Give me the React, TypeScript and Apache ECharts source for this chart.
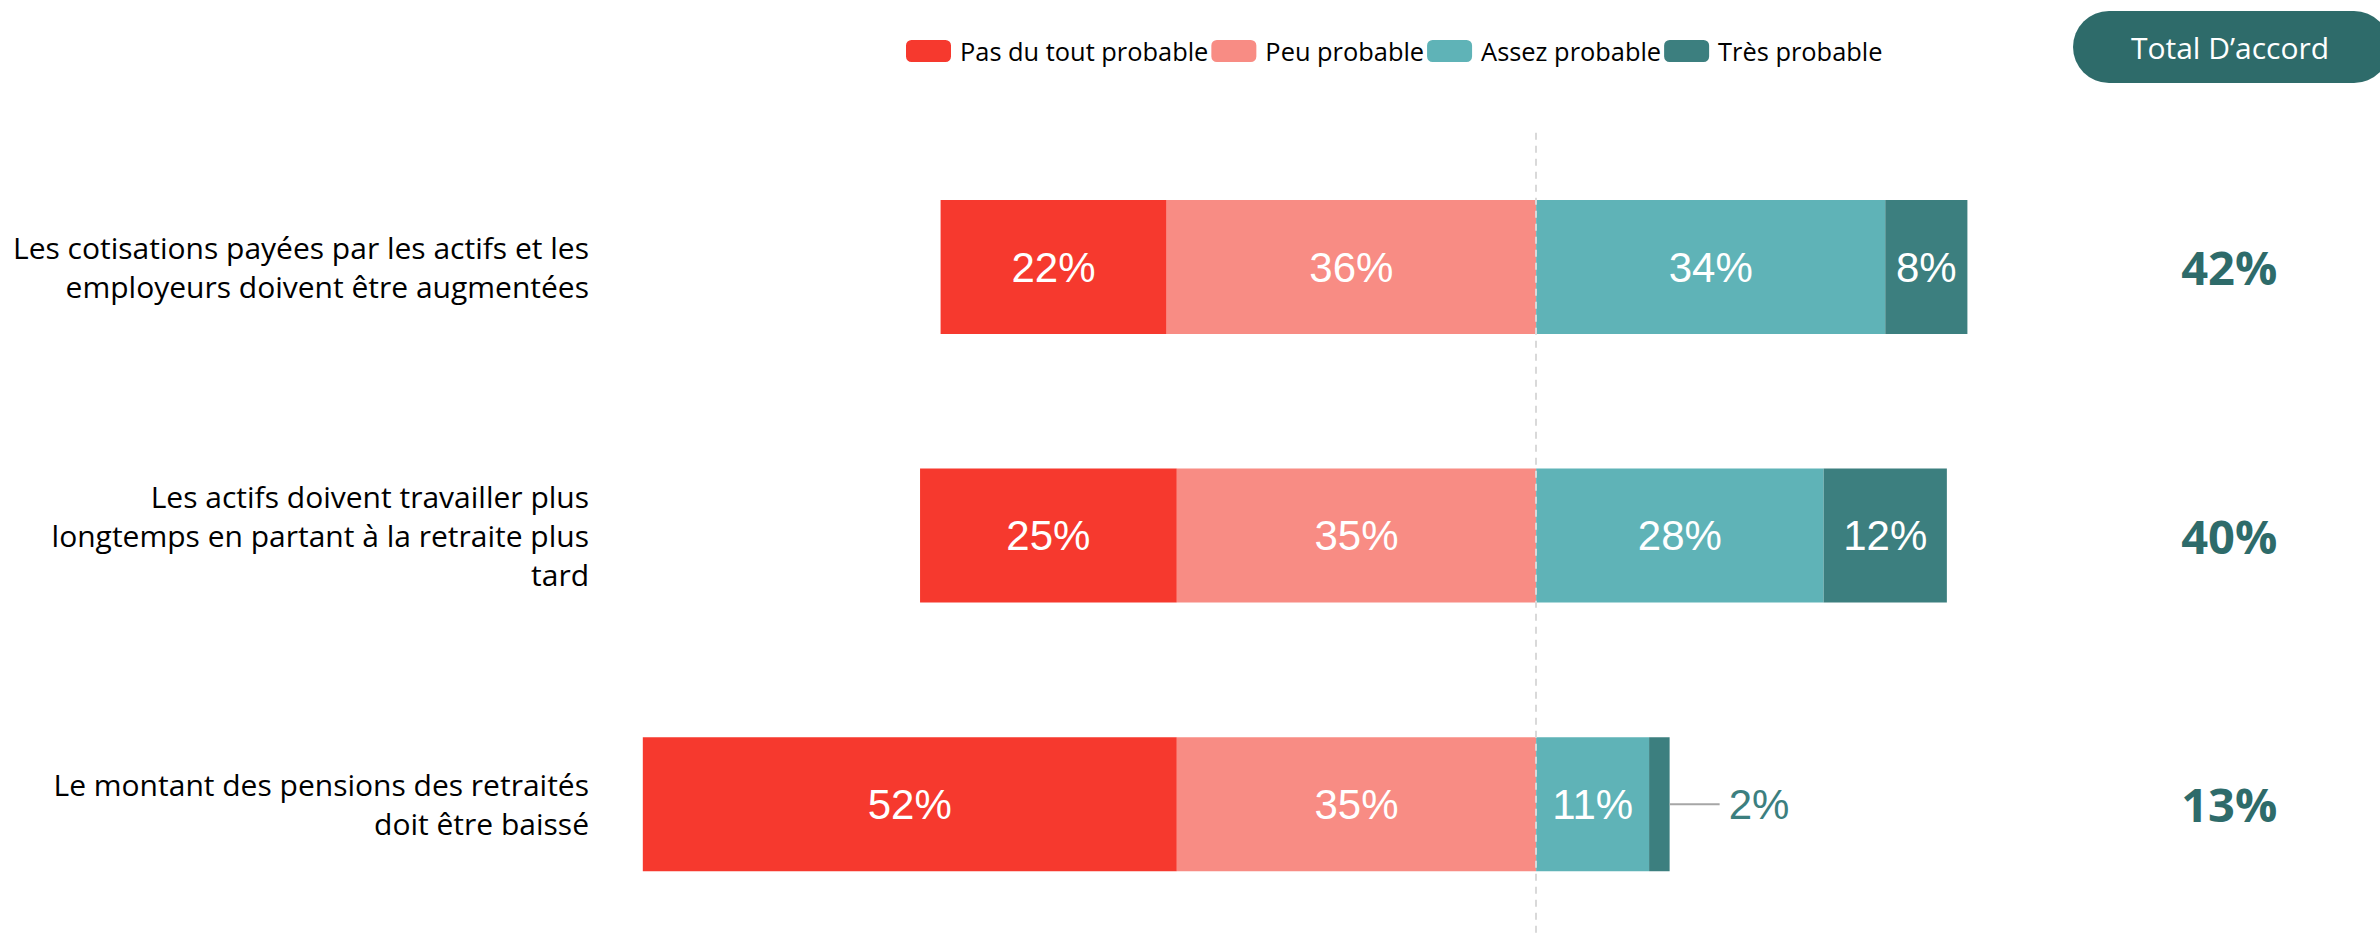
import React, { useEffect, useRef } from "react";
import * as echarts from "echarts";

const categories = [
  "Les cotisations payées par les actifs et les\nemployeurs doivent être augmentées",
  "Les actifs doivent travailler plus\nlongtemps en partant à la retraite plus\ntard",
  "Le montant des pensions des retraités\ndoit être baissé",
];
const legendNames = ["Pas du tout probable", "Peu probable", "Assez probable", "Très probable"];
const pasDuTout = [22, 25, 52];
const peu = [36, 35, 35];
const assez = [34, 28, 11];
const tres = [8, 12, 2];
const totals = [42, 40, 13];
const totalHeader = "Total D’accord";

const COLORS = {
  pasDuTout: "#F6392E",
  peu: "#F88C84",
  assez: "#5FB3B7",
  tres: "#3C7F7F",
  dark: "#2E6B6A",
};

const TOTAL_X = 67.5;
const SANS = "'Open Sans', 'Noto Sans', sans-serif";
const ARIAL = "'Liberation Sans', Arial, sans-serif";

export default function App() {
  const ref = useRef<HTMLDivElement>(null);
  useEffect(() => {
    document.body.style.margin = "0";
    const chart = echarts.init(ref.current!, null, { renderer: "svg" });

    const barLabel = {
      show: true,
      position: "inside",
      color: "#fff",
      fontSize: 42,
      fontFamily: ARIAL,
      formatter: (p: any) => Math.abs(p.value) + "%",
    };

    const mkData = (vals: number[], sign: number) =>
      vals.map((v) => {
        if (v < 4) {
          return {
            value: sign * v,
            label: {
              show: true,
              position: "right",
              distance: 0,
              formatter: "{l|}{v|" + v + "%}",
              rich: {
                l: { width: 50, height: 2, backgroundColor: "#A6A6A6" },
                v: { color: COLORS.tres, fontSize: 42, fontFamily: ARIAL, padding: [0, 0, 0, 9] },
              },
            },
          };
        }
        return sign * v;
      });

    const common = {
      type: "bar",
      stack: "total",
      barWidth: 134,
      label: barLabel,
    };

    chart.setOption({
      animation: false,
      legend: {
        data: legendNames,
        left: 906,
        top: 36,
        padding: 0,
        itemWidth: 45,
        itemHeight: 22,
        itemGap: 3,
        icon: "roundRect",
        selectedMode: false,
        textStyle: { fontSize: 25.4, fontFamily: SANS, color: "#000", lineHeight: 30, padding: [0, 0, 0, 4] },
      },
      grid: {
        left: 612,
        right: 22.4,
        top: 132.7,
        height: 805.8,
        containLabel: false,
        outerBoundsMode: "none",
      },
      xAxis: {
        type: "value",
        min: -90,
        max: 80,
        show: false,
        splitLine: { show: false },
      },
      yAxis: {
        type: "category",
        data: categories,
        inverse: true,
        axisLine: { show: false },
        axisTick: { show: false },
        axisLabel: {
          margin: 23,
          fontSize: 30,
          lineHeight: 39,
          color: "#000",
          fontFamily: SANS,
          align: "right",
        },
      },
      series: [
        { ...common, name: legendNames[1], data: mkData(peu, -1), itemStyle: { color: COLORS.peu } },
        { ...common, name: legendNames[0], data: mkData(pasDuTout, -1), itemStyle: { color: COLORS.pasDuTout } },
        {
          ...common,
          name: legendNames[2],
          data: mkData(assez, 1),
          itemStyle: { color: COLORS.assez },
        },
        {
          ...common,
          name: legendNames[3],
          data: mkData(tres, 1),
          itemStyle: { color: COLORS.tres },
          markLine: {
            silent: true,
            symbol: ["none", "none"],
            label: { show: false },
            lineStyle: { type: [7, 6], color: "#D9D9D9", width: 2 },
            data: [{ xAxis: 0 }],
            z: 10,
          },
        },
        {
          type: "scatter",
          name: "totals",
          symbolSize: 1,
          itemStyle: { color: "rgba(0,0,0,0)", opacity: 1 },
          data: totals.map((t, i) => [TOTAL_X, i, t]),
          label: {
            show: true,
            position: "inside",
            formatter: (p: any) => p.value[2] + "%",
            fontSize: 47,
            fontWeight: "bold",
            fontFamily: SANS,
            color: COLORS.dark,
          },
        },
      ],
      graphic: [
        {
          type: "rect",
          shape: { x: 2073, y: 11, width: 317, height: 72, r: 36 },
          style: { fill: COLORS.dark },
        },
        {
          type: "text",
          x: 2230,
          y: 47,
          style: {
            text: totalHeader,
            fill: "#fff",
            fontSize: 30,
            fontFamily: SANS,
            align: "center",
            verticalAlign: "middle",
          },
        },
      ],
    });
    return () => chart.dispose();
  }, []);
  return <div ref={ref} style={{ width: 2380, height: 933 }} />;
}
